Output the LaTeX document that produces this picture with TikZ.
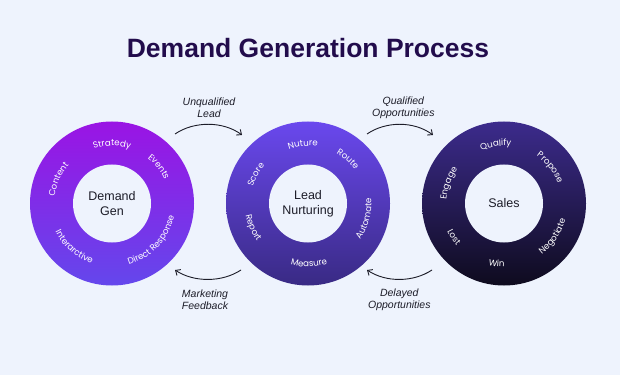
\documentclass[tikz,border=0pt]{standalone}
\usepackage{fontspec}
\setmainfont{Liberation Sans}
\newfontfamily\ringfont{Poppins}
\usetikzlibrary{calc,decorations.text,arrows.meta}
\definecolor{bg}{HTML}{EEF3FD}
\definecolor{titlec}{HTML}{220C4C}
\definecolor{aT}{HTML}{9A14E4}
\definecolor{aB}{HTML}{6447EC}
\definecolor{bT}{HTML}{6A48EE}
\definecolor{bB}{HTML}{392A84}
\definecolor{cT}{HTML}{3C2B8C}
\definecolor{cB}{HTML}{0E0B1E}
\definecolor{ink}{HTML}{1C1C28}
\newcommand\ringtop[3]{\path[decorate,decoration={text along path,text align=center,text={|\ringfont\fontsize{8.7}{8.7}\selectfont\color{white}|#3}}] ($(#1)+({#2+55}:57.6)$) arc[start angle={#2+55}, end angle={#2-55}, radius=57.6];}
\newcommand\ringbot[3]{\path[decorate,decoration={text along path,text align=center,text={|\ringfont\fontsize{8.7}{8.7}\selectfont\color{white}|#3}}] ($(#1)+({#2-55}:63.4)$) arc[start angle={#2-55}, end angle={#2+55}, radius=63.4];}
\begin{document}
\begin{tikzpicture}[x=1pt,y=1pt,
  ring/.style={circle, minimum size=164pt, inner sep=0pt, outer sep=0pt, draw=none},
  hub/.style={circle, fill=bg, minimum size=78pt, inner sep=0pt, align=center, font=\fontsize{12.5}{15}\selectfont, text=ink},
  lbl/.style={align=center, font=\itshape\fontsize{10.5}{11.6}\selectfont, text=ink},
  conn/.style={-{Straight Barb[length=4pt,width=7pt]}, line width=0.9pt, ink}]
\fill[bg] (0,0) rectangle (620,375);
\useasboundingbox (0,0) rectangle (620,375);
\node[titlec, anchor=base, font=\fontsize{26.5}{30}\selectfont\bfseries] (title) at (308,317.3) {Demand Generation Process};
% rings
\node[ring, top color=aT, bottom color=aB] (r1) at (112,171.5) {};
\node[ring, top color=bT, bottom color=bB] (r2) at (308,171.5) {};
\node[ring, top color=cT, bottom color=cB] (r3) at (504,171.5) {};
\node[hub] (h1) at (r1) {Demand\\Gen};
\node[hub] (h2) at (r2) {Lead\\Nurturing};
\node[hub] (h3) at (r3) {Sales};
% ring labels
\ringtop{r1}{90}{Stratedy}
\ringtop{r1}{38}{Events}
\ringtop{r1}{156}{Content}
\ringbot{r1}{229}{Interarctive}
\ringbot{r1}{317}{Direct Response}
\ringtop{r2}{95}{Nuture}
\ringtop{r2}{48}{Route}
\ringtop{r2}{151}{Score}
\ringbot{r2}{204}{Report}
\ringbot{r2}{271}{Measure}
\ringbot{r2}{345}{Automate}
\ringtop{r3}{98}{Qualify}
\ringtop{r3}{38}{Propose}
\ringtop{r3}{160}{Engage}
\ringbot{r3}{214}{Lost}
\ringbot{r3}{263}{Win}
\ringbot{r3}{326}{Negotiate}
% connectors
\coordinate (ul1) at (175,241); \coordinate (ul2) at (242,240);
\coordinate (qo1) at (367,241); \coordinate (qo2) at (433,240);
\coordinate (mf1) at (241,105); \coordinate (mf2) at (175,105);
\coordinate (do1) at (432,105); \coordinate (do2) at (367,105);
\draw[conn] (ul1) .. controls (194,254) and (223,254) .. (ul2);
\draw[conn] (qo1) .. controls (386,254) and (414,254) .. (qo2);
\draw[conn] (mf1) .. controls (222,92.5) and (194,92.5) .. (mf2);
\draw[conn] (do1) .. controls (413,92.5) and (386,92.5) .. (do2);
\node[lbl] (t1) at (209,267.5) {Unqualified\\Lead};
\node[lbl] (t2) at (403.3,267.5) {Qualified\\Opportunities};
\node[lbl] (t3) at (205,75) {Marketing\\Feedback};
\node[lbl] (t4) at (399.3,75) {Delayed\\Opportunities};
\end{tikzpicture}
\end{document}
